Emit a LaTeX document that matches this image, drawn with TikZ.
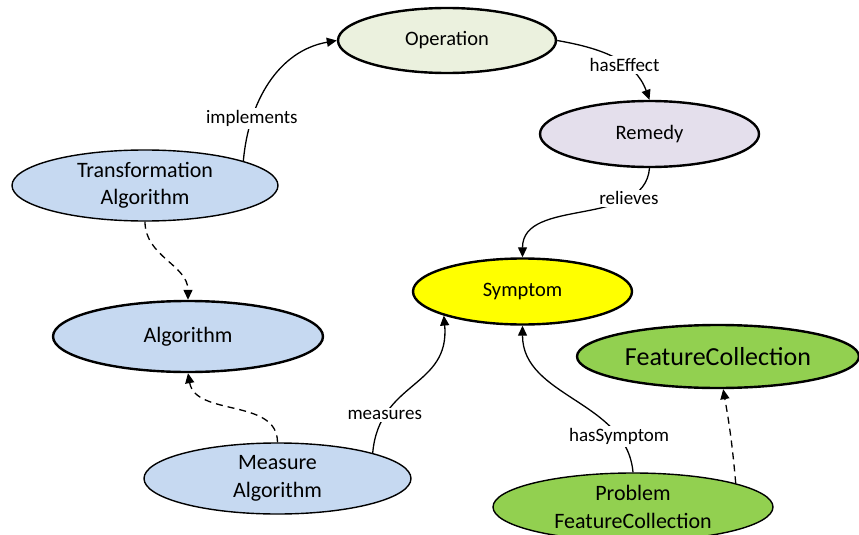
\documentclass[tikz,border=0pt]{standalone}
\usepackage{fontspec}
\setmainfont{Carlito}
\usetikzlibrary{shapes.geometric,arrows.meta}
\definecolor{opfill}{HTML}{EBF1DE}
\definecolor{remfill}{HTML}{E4DFEC}
\definecolor{symfill}{HTML}{FFFF00}
\definecolor{bluefill}{HTML}{C6D9F1}
\definecolor{greenfill}{HTML}{92D050}
\begin{document}
\begin{tikzpicture}[x=1pt,y=1pt,
  ell/.style={ellipse, draw=black, inner sep=0pt, align=center},
  thickell/.style={ell, line width=2.4pt},
  thinell/.style={ell, line width=1.4pt},
  rel/.style={line width=1.3pt, -{Triangle[length=10pt,width=9pt]}},
  isa/.style={rel, dash pattern=on 7pt off 5pt},
  lbl/.style={fill=white, inner sep=2pt, font=\fontsize{19}{22}\selectfont},
  fa/.style={font=\fontsize{20.5}{25}\selectfont},
  fb/.style={font=\fontsize{22}{27.5}\selectfont},
  fc/.style={font=\fontsize{26}{30}\selectfont},
]
\path[use as bounding box] (0,0) rectangle (859,-535);

\node[thickell, fa, fill=opfill, minimum width=218pt, minimum height=65pt] (op) at (447,-40.5) {Operation};
\node[thickell, fa, fill=remfill, minimum width=219pt, minimum height=66pt] (rem) at (649.5,-134) {Remedy};
\node[thickell, fa, fill=symfill, minimum width=219pt, minimum height=66pt] (sym) at (522.5,-291.5) {Symptom};
\node[thinell, fb, fill=bluefill, minimum width=266pt, minimum height=71pt] (ta) at (145,-185.5) {Transformation\\Algorithm};
\node[thickell, fb, fill=bluefill, minimum width=270pt, minimum height=71pt] (alg) at (188,-336.5) {Algorithm};
\node[thinell, fb, fill=bluefill, minimum width=267pt, minimum height=71pt] (ma) at (277.5,-478.5) {Measure\\Algorithm};
\node[thickell, fc, fill=greenfill, minimum width=282pt, minimum height=63pt] (fcn) at (718,-356.5) {FeatureCollection};
\node[thinell, fb, fill=greenfill, minimum width=280pt, minimum height=68pt] (pfc) at (633,-507) {Problem\\FeatureCollection};

\draw[rel] (ta.14.7) to[out=85,in=190] node[lbl,pos=0.25]{implements} (op.west);
\draw[rel] (op.east) to[out=-10,in=110] node[lbl,pos=0.62]{hasEffect} (rem.north);
\draw[rel] (rem.south) to[out=-95,in=90] node[lbl,pos=0.24]{relieves} (sym.north);
\draw[rel] (ma.15) to[out=85,in=-85,looseness=1.2] node[lbl,pos=0.22]{measures} (sym.197);
\draw[rel] (pfc.north) to[out=95,in=-90] node[lbl,pos=0.2]{hasSymptom} (sym.south);
\draw[isa] (ta.south) to[out=-90,in=90] (alg.north);
\draw[isa] (ma.north) to[out=90,in=-80] (alg.south);
\draw[isa] (pfc.13.4) to[out=95,in=-80] (fcn.-81);
\end{tikzpicture}
\end{document}
